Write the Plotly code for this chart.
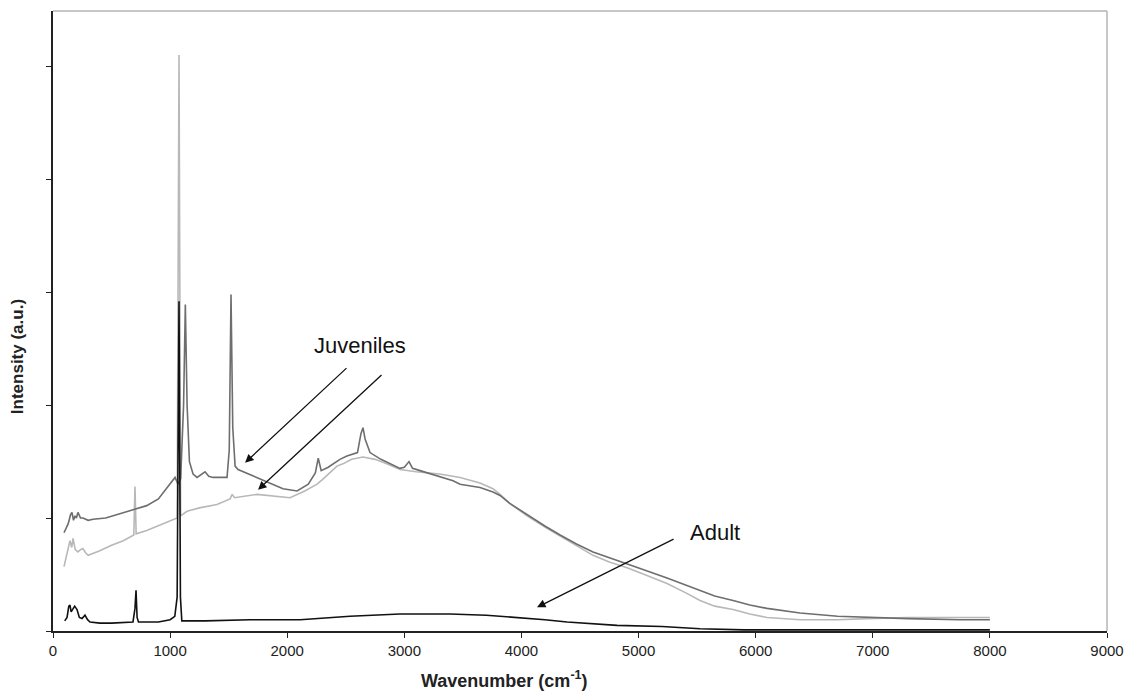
import plotly.graph_objects as go

# ---- data ----
juv_dark_x = [94, 130, 150, 162, 175, 188, 200, 213, 235, 256, 300, 342, 450, 550, 650, 700, 800, 900, 973, 1000,
              1042, 1067, 1090, 1115, 1130, 1145, 1165, 1196, 1230, 1298, 1330, 1366, 1486, 1505, 1520, 1535, 1555,
              1580, 1768, 1964, 2084, 2180, 2240, 2265, 2290, 2350, 2450, 2510, 2600, 2630, 2647, 2665, 2707, 2800,
              2963, 3000, 3040, 3070, 3134, 3300, 3416, 3476, 3646, 3757, 3817, 3900, 4048, 4200, 4330, 4470, 4611,
              4750, 4902, 5050, 5243, 5400, 5525, 5650, 5807, 5950, 6097, 6379, 6700, 6951, 7300, 7745, 8000]
juv_dark_y = [0.87, 0.95, 1.03, 1.05, 0.98, 1.02, 1.00, 1.05, 1.00, 1.00, 0.98, 0.99, 1.00, 1.03, 1.06, 1.08, 1.11,
              1.17, 1.27, 1.30, 1.36, 1.30, 1.35, 2.00, 2.89, 2.00, 1.50, 1.39, 1.36, 1.41, 1.37, 1.36, 1.36, 1.60,
              2.98, 1.80, 1.46, 1.43, 1.35, 1.26, 1.24, 1.30, 1.40, 1.53, 1.42, 1.45, 1.52, 1.55, 1.58, 1.75, 1.80,
              1.70, 1.58, 1.52, 1.44, 1.45, 1.50, 1.44, 1.42, 1.37, 1.33, 1.30, 1.27, 1.23, 1.20, 1.13, 1.03, 0.93,
              0.85, 0.77, 0.70, 0.65, 0.60, 0.54, 0.47, 0.41, 0.36, 0.31, 0.27, 0.23, 0.20, 0.16, 0.13, 0.12, 0.11,
              0.10, 0.10]

juv_light_x = [94, 120, 145, 160, 171, 190, 213, 235, 256, 280, 300, 400, 500, 600, 690, 700, 710, 800, 900, 1000,
               1060, 1076, 1090, 1144, 1250, 1400, 1512, 1530, 1550, 1742, 1850, 2024, 2150, 2255, 2300, 2425, 2476,
               2550, 2647, 2750, 2850, 2963, 3100, 3194, 3300, 3476, 3646, 3757, 3817, 3900, 4048, 4200, 4330, 4470,
               4611, 4750, 4902, 5050, 5243, 5400, 5525, 5650, 5807, 5950, 6097, 6379, 6700, 6951, 7300, 7745, 8000]
juv_light_y = [0.57, 0.68, 0.80, 0.74, 0.82, 0.72, 0.70, 0.72, 0.73, 0.69, 0.67, 0.71, 0.76, 0.80, 0.85, 1.28, 0.86,
               0.89, 0.93, 0.97, 1.00, 5.10, 1.02, 1.06, 1.09, 1.12, 1.17, 1.21, 1.18, 1.21, 1.20, 1.18, 1.24, 1.30,
               1.34, 1.46, 1.48, 1.52, 1.54, 1.52, 1.48, 1.43, 1.41, 1.40, 1.39, 1.36, 1.31, 1.26, 1.21, 1.13, 1.02,
               0.92, 0.84, 0.75, 0.67, 0.61, 0.56, 0.50, 0.42, 0.34, 0.27, 0.22, 0.19, 0.15, 0.12, 0.10, 0.10, 0.11,
               0.12, 0.12, 0.12]

adult_x = [100, 120, 135, 145, 155, 170, 185, 205, 225, 248, 273, 295, 316, 400, 500, 683, 700, 709, 718, 730, 900,
           1000, 1040, 1060, 1076, 1088, 1100, 1300, 1682, 2110, 2536, 2963, 3390, 3700, 3962, 4200, 4390, 4816,
           5200, 5525, 5900, 6500, 7000, 8000]
adult_y = [0.09, 0.12, 0.22, 0.23, 0.17, 0.20, 0.22, 0.19, 0.12, 0.11, 0.14, 0.10, 0.08, 0.07, 0.07, 0.08, 0.20,
           0.36, 0.12, 0.08, 0.08, 0.10, 0.13, 0.30, 2.92, 0.30, 0.09, 0.09, 0.10, 0.10, 0.13, 0.15, 0.15, 0.14,
           0.12, 0.10, 0.08, 0.05, 0.04, 0.02, 0.01, 0.01, 0.01, 0.01]

x_ticks = [0, 1000, 2000, 3000, 4000, 5000, 6000, 7000, 8000, 9000]

FONT = "Liberation Sans, Arial, sans-serif"

fig = go.Figure()
fig.add_trace(go.Scatter(x=juv_light_x, y=juv_light_y, mode="lines", name="Juvenile 2",
                         line=dict(color="#b8b8b8", width=1.6)))
fig.add_trace(go.Scatter(x=juv_dark_x, y=juv_dark_y, mode="lines", name="Juvenile 1",
                         line=dict(color="#6e6e6e", width=1.6)))
fig.add_trace(go.Scatter(x=adult_x, y=adult_y, mode="lines", name="Adult",
                         line=dict(color="#111111", width=1.6)))

fig.update_layout(
    width=1127, height=691,
    margin=dict(l=53, r=20, t=11, b=60, autoexpand=False),
    paper_bgcolor="white", plot_bgcolor="white",
    showlegend=False,
    font=dict(family=FONT, color="#222222"),
    xaxis=dict(range=[0, 9000], tickvals=x_ticks, ticktext=[str(v) for v in x_ticks],
               showgrid=False, zeroline=False, showline=True, linecolor="#222222", linewidth=1.5,
               ticks="outside", ticklen=5, tickcolor="#222222", tickfont=dict(size=15, family=FONT),
               ticklabeloverflow="allow"),
    yaxis=dict(range=[0, 5.49], dtick=1, showticklabels=False,
               showgrid=False, zeroline=False, showline=True, linecolor="#222222", linewidth=1.5,
               ticks="outside", ticklen=5, tickcolor="#222222"),
)

# top/right frame in gray
fig.add_shape(type="line", xref="paper", yref="paper", x0=0, x1=1, y0=1, y1=1,
              line=dict(color="#b5b5b5", width=1.5))
fig.add_shape(type="line", xref="paper", yref="paper", x0=1, x1=1, y0=0, y1=1,
              line=dict(color="#b5b5b5", width=1.5))

# axis titles
fig.add_annotation(text="<b>Wavenumber (cm<sup>-1</sup>)</b>", xref="paper", yref="paper",
                   x=0.428, y=-0.079, showarrow=False, font=dict(size=18, family=FONT, color="#222222"),
                   xanchor="center", yanchor="middle")
fig.add_annotation(text="<b>Intensity (a.u.)</b>", xref="paper", yref="paper",
                   x=-0.033, y=0.442, showarrow=False, textangle=-90,
                   font=dict(size=17, family=FONT, color="#222222"), xanchor="center", yanchor="middle")

# labels and arrows
fig.add_annotation(text="Juveniles", x=2622, y=2.53, xref="x", yref="y", showarrow=False,
                   font=dict(size=22, family=FONT, color="#111111"))
fig.add_annotation(text="Adult", x=5653, y=0.876, xref="x", yref="y", showarrow=False,
                   font=dict(size=22, family=FONT, color="#111111"))

for (x0, y0, x1, y1) in [(2519, 2.34, 1640, 1.49), (2818, 2.28, 1751, 1.25), (5312, 0.82, 4133, 0.21)]:
    fig.add_annotation(x=x1, y=y1, ax=x0, ay=y0, xref="x", yref="y", axref="x", ayref="y",
                       text="", showarrow=True, arrowhead=2, arrowsize=1.3, arrowwidth=1.3,
                       arrowcolor="#111111")

# remove the browser's default 8px page margin so the figure fills the window exactly
fig.write_html("out.html", config={"displayModeBar": False},
               post_script="document.body.style.margin='0';document.body.style.overflow='hidden';")
